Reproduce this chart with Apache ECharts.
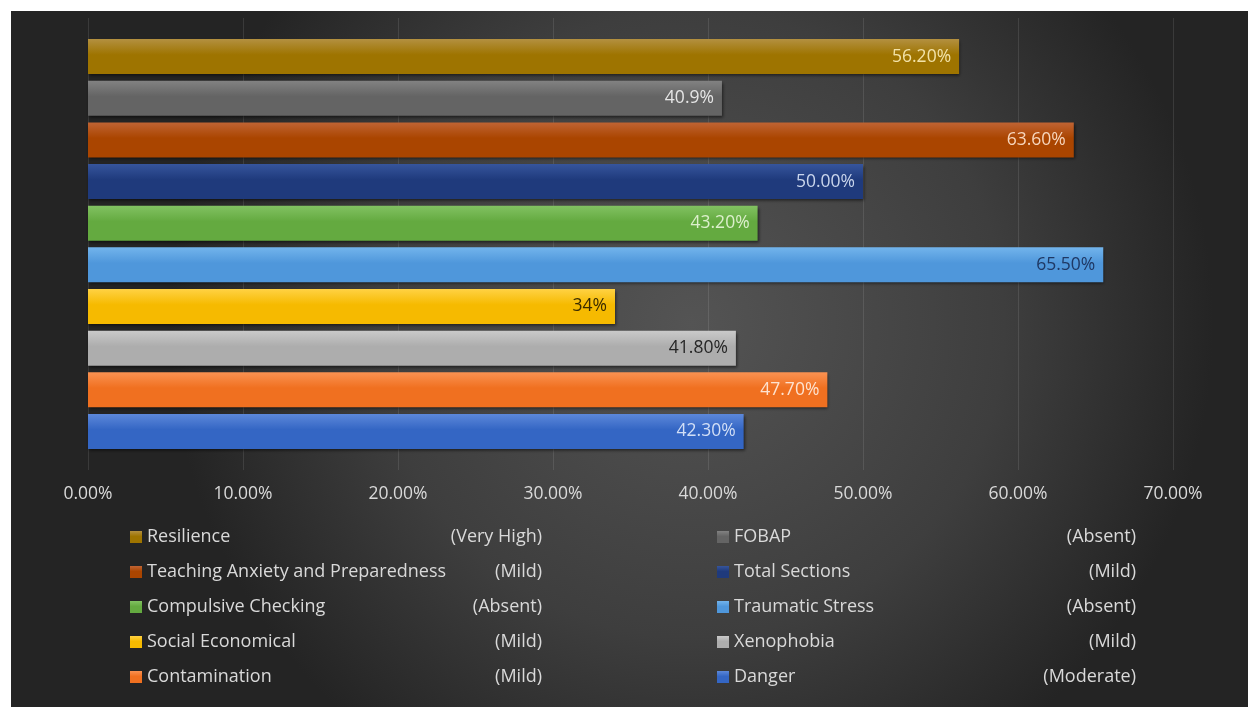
<!DOCTYPE html>
<html>
<head>
<meta charset="utf-8">
<script src="https://cdn.jsdelivr.net/npm/echarts@6/dist/echarts.min.js"></script>
<style>
html,body{margin:0;padding:0;background:#ffffff;}
#chart{width:1248px;height:707px;}
</style>
</head>
<body>
<div id="chart"></div>
<script>
// Series (top to bottom in the chart)
const seriesNames = ['Resilience','FOBAP','Teaching Anxiety and Preparedness','Total Sections','Compulsive Checking','Traumatic Stress','Social Economical','Xenophobia','Contamination','Danger'];
const levels = ['(Very High)','(Absent)','(Mild)','(Mild)','(Absent)','(Absent)','(Mild)','(Mild)','(Mild)','(Moderate)'];
const values = [56.2, 40.9, 63.6, 50.0, 43.2, 65.5, 34.0, 41.8, 47.7, 42.3];
const valueLabels = ['56.20%','40.9%','63.60%','50.00%','43.20%','65.50%','34%','41.80%','47.70%','42.30%'];
const categories = ['All'];
const xTicks = [0, 10, 20, 30, 40, 50, 60, 70];

// styling
const FONT = 'Open Sans';
const FS = 17.5;
const LFS = 18;
const barColors = [
  ['#b39040','#9e7400'],
  ['#828282','#646464'],
  ['#c06434','#aa4500'],
  ['#36559c','#1f3a7c'],
  ['#82c262','#64aa40'],
  ['#72b4ec','#4f97db'],
  ['#ffd244','#f6ba00'],
  ['#cacaca','#adadad'],
  ['#fa9252','#f07020'],
  ['#5c88da','#3466c4']
];
const labelColors = ['#f2e2a8','#e6e6e6','#f7d6bd','#c9d5ec','#dcefcc','#1f3864','#3b2c00','#262626','#fde2cf','#d2dff6'];

const chart = echarts.init(document.getElementById('chart'), null, {renderer:'canvas'});

const series = seriesNames.map((n, i) => ({
  name: n,
  type: 'bar',
  barWidth: 35,
  barGap: '19%',
  data: [values[i]],
  itemStyle: {
    color: {type:'linear', x:0, y:0, x2:0, y2:1, colorStops:[
      {offset:0, color:barColors[i][0]},
      {offset:0.45, color:barColors[i][1]},
      {offset:1, color:barColors[i][1]}
    ]},
    shadowColor: 'rgba(0,0,0,0.55)',
    shadowBlur: 3,
    shadowOffsetY: 2,
    shadowOffsetX: 1
  },
  label: {
    show: true,
    position: 'insideRight',
    distance: 8,
    formatter: () => valueLabels[i],
    color: labelColors[i],
    fontFamily: FONT,
    fontSize: FS
  }
}));

const legendFmt = function(name){
  const i = seriesNames.indexOf(name);
  return '{n|' + name + '}{p|' + levels[i] + '}';
};
const legendBase = (left, data, pw) => ({
  orient: 'vertical',
  left: left,
  top: 527,
  padding: 0,
  itemWidth: 12,
  itemHeight: 12,
  itemGap: 15,
  icon: 'rect',
  data: data,
  formatter: legendFmt,
  textStyle: {
    color: '#d9d9d9',
    fontFamily: FONT,
    fontSize: LFS,
    lineHeight: 20,
    rich: {
      n: {width: 300, fontFamily: FONT, fontSize: LFS, color:'#d9d9d9'},
      p: {width: pw, align: 'right', fontFamily: FONT, fontSize: LFS, color:'#d9d9d9'}
    }
  }
});

const option = {
  animation: false,
  graphic: [{
    type: 'rect',
    z: -10,
    silent: true,
    shape: {x: 11, y: 11, width: 1237, height: 696},
    style: {
      fill: {type:'radial', x:0.55, y:0.45, r:0.75, colorStops:[
        {offset:0, color:'#545454'},
        {offset:0.6, color:'#3e3e3e'},
        {offset:1, color:'#242424'}
      ]}
    }
  }],
  grid: {left: 88, right: 75, top: 18, bottom: 237, containLabel: false},
  xAxis: {
    type: 'value',
    min: 0, max: 70, interval: 10,
    axisLine: {show: false},
    axisTick: {show: false},
    splitLine: {show: true, lineStyle: {color: 'rgba(255,255,255,0.1)', width: 1}},
    axisLabel: {
      margin: 15,
      color: '#d9d9d9',
      fontFamily: FONT,
      fontSize: FS,
      formatter: v => (xTicks.indexOf(v) >= 0 ? v.toFixed(2) + '%' : '')
    }
  },
  yAxis: {
    type: 'category',
    data: categories,
    inverse: true,
    show: false
  },
  legend: [
    legendBase(130, [seriesNames[0], seriesNames[2], seriesNames[4], seriesNames[6], seriesNames[8]], 95),
    legendBase(717, [seriesNames[1], seriesNames[3], seriesNames[5], seriesNames[7], seriesNames[9]], 102)
  ],
  series: series
};
chart.setOption(option);
</script>
</body>
</html>
